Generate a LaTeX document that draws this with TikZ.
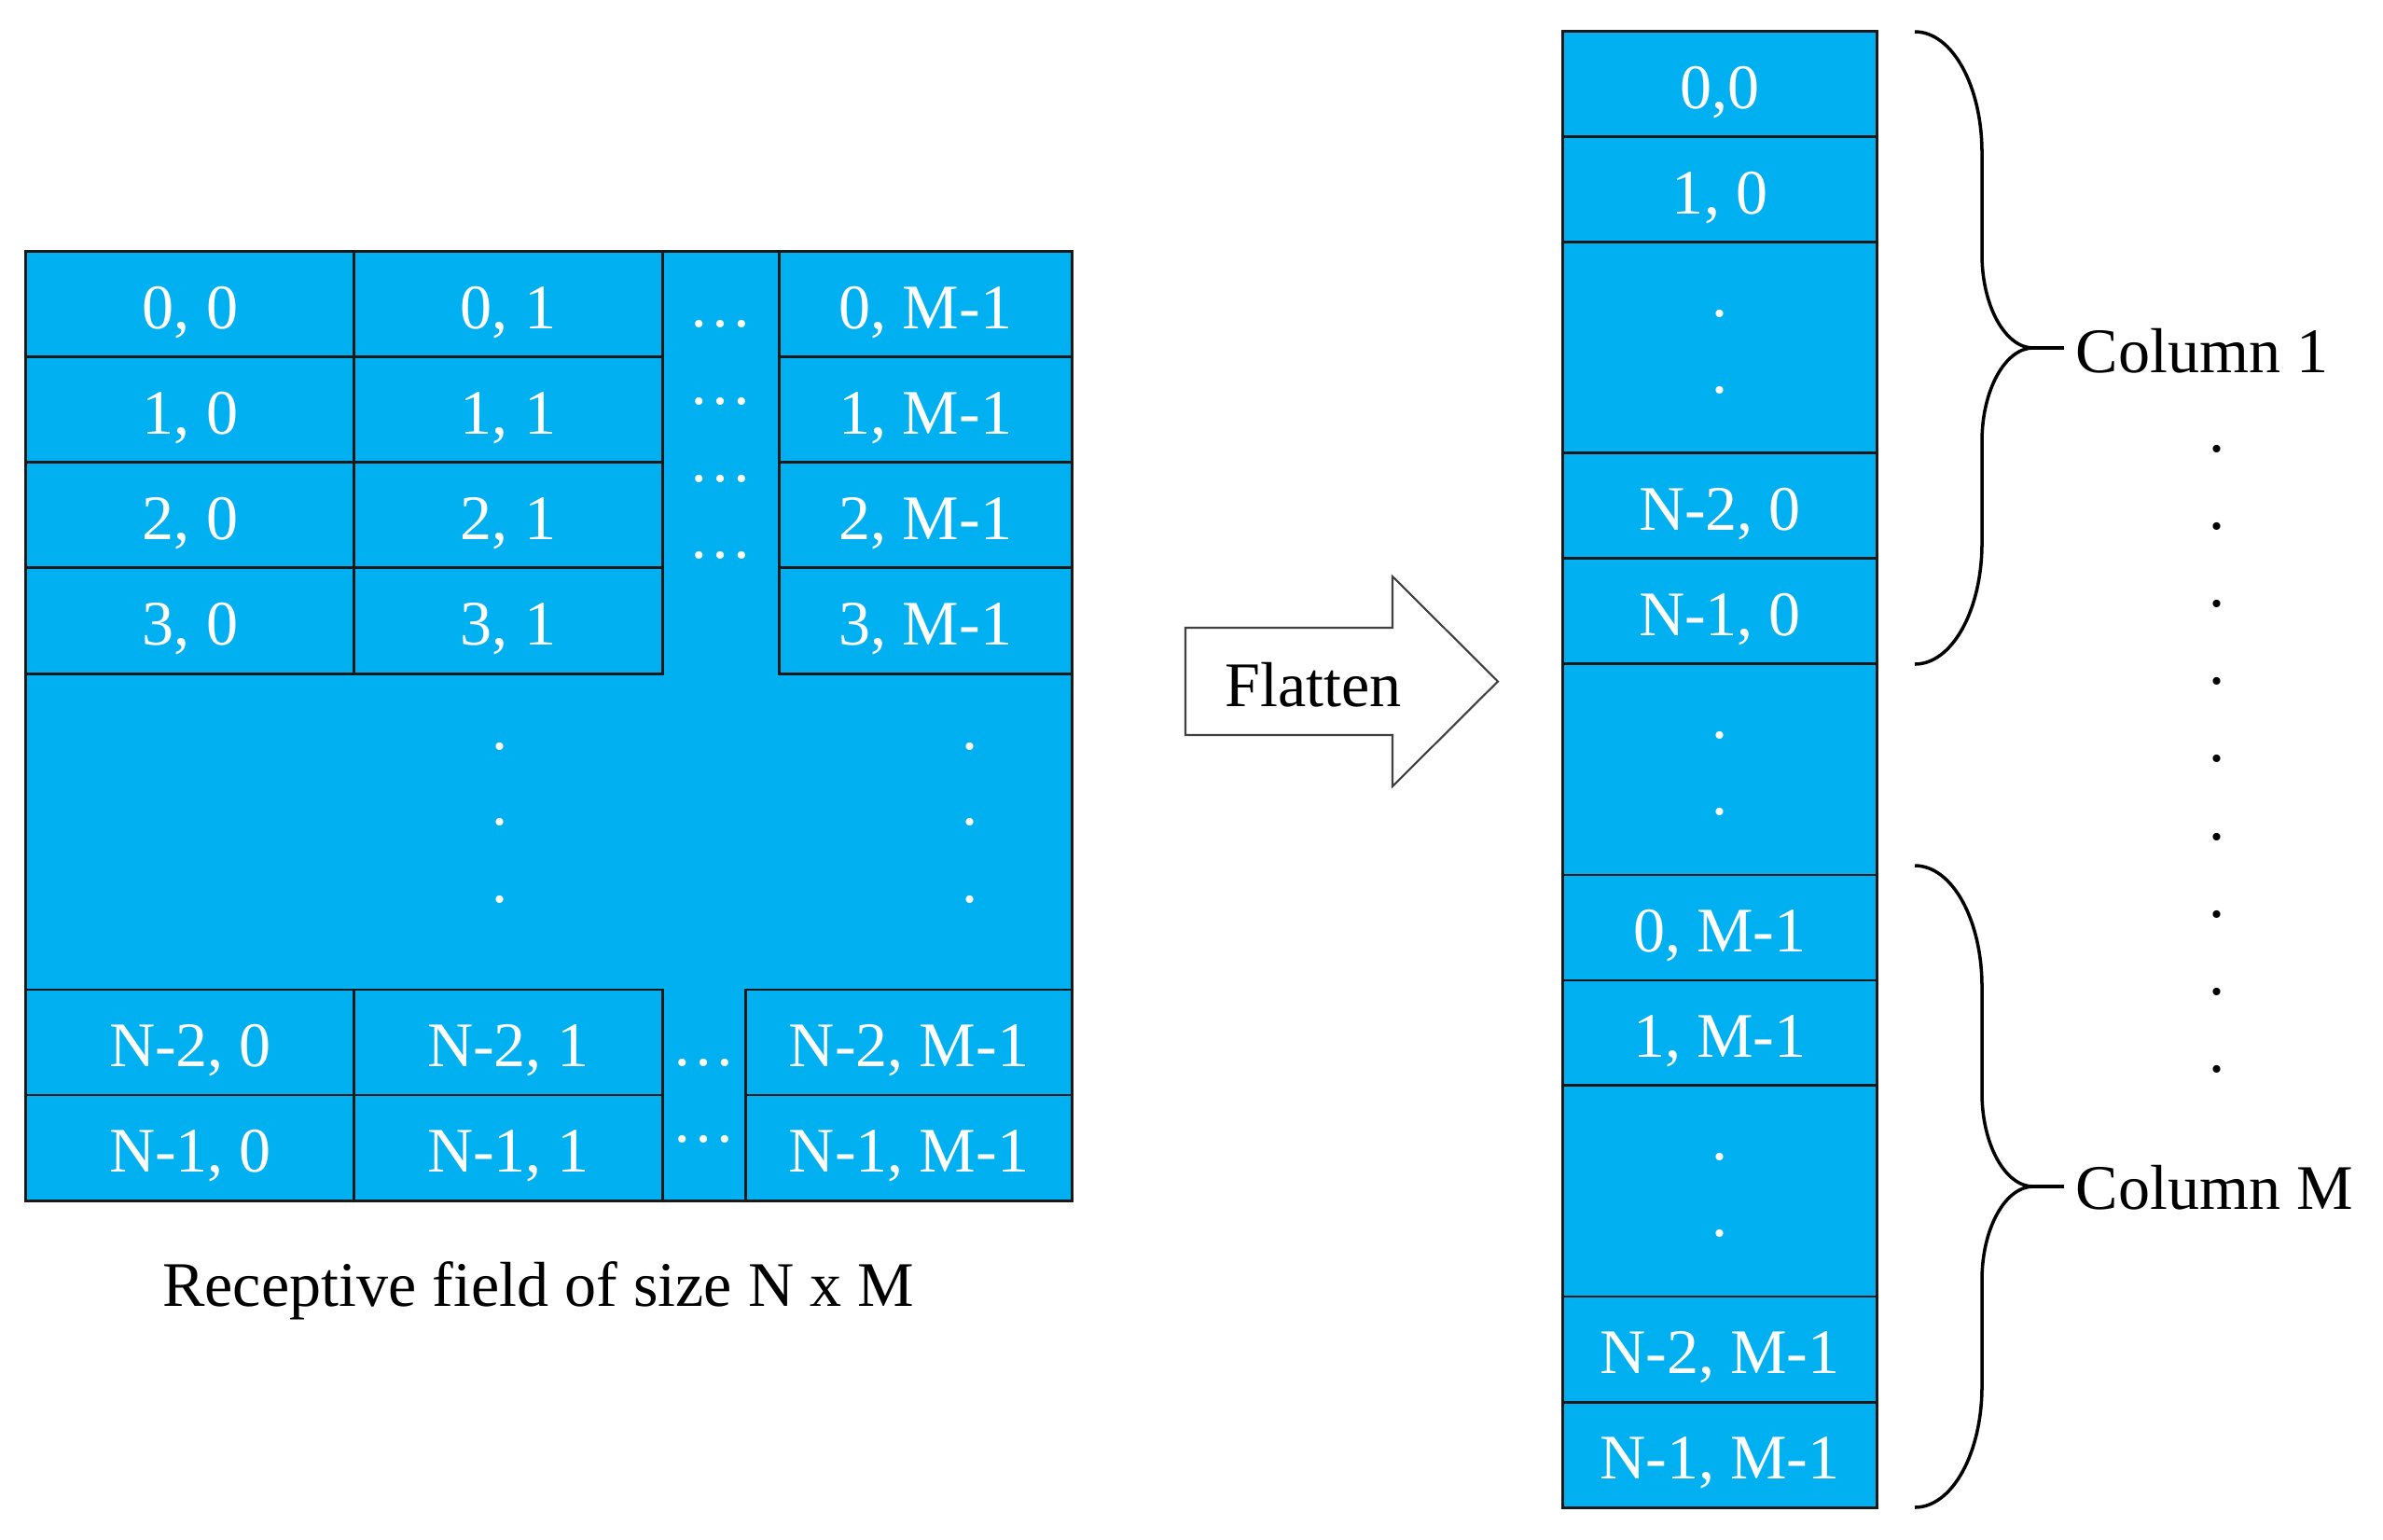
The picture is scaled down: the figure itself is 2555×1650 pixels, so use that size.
\documentclass[tikz,border=0pt]{standalone}
\usepackage{fontspec}
\setmainfont{Liberation Serif}
\definecolor{cellblue}{HTML}{00B0F0}
\newcommand{\cellfont}{\fontsize{19.36pt}{23.2pt}\selectfont}
\begin{document}
\begin{tikzpicture}[x=0.01cm, y=-0.01cm,
  gridline/.style={draw=black!90, line width=0.85pt},
  cell/.style={gridline, fill=cellblue, rectangle, inner sep=0pt,
    minimum height=1.13cm, text=white, font=\cellfont,
    text height=0.52cm, text depth=0pt},
  tallcell/.style={gridline, fill=cellblue, rectangle, inner sep=0pt,
    minimum width=3.36cm, minimum height=2.26cm},
  wdots/.style={font=\cellfont, text=white, inner sep=0pt, anchor=base},
  bdots/.style={font=\cellfont, text=black, inner sep=0pt, anchor=base},
  label/.style={font=\cellfont, text=black, inner sep=0pt},
  bracestyle/.style={draw=black, line width=1pt},
  arrowline/.style={draw=black!75, line width=0.6pt, fill=white, line join=miter}
]
\useasboundingbox (0,0) rectangle (2555,1650);

% ---------- receptive field grid ----------
\node[gridline, fill=cellblue, rectangle, inner sep=0pt,
      minimum width=11.21cm, minimum height=10.17cm] (field) at (588.5,778.5) {};

\foreach \r/\y in {0/326.5,1/439.5,2/552.5,3/665.5}{
  \node[cell, minimum width=3.52cm] (a\r0) at (204,\y) {\r, 0};
  \node[cell, minimum width=3.30cm] (a\r1) at (545,\y) {\r, 1};
  \node[cell, minimum width=3.13cm] (a\r m) at (992.5,\y) {\r, M-1};
}
\node[cell, minimum width=3.52cm] (an20) at (204,1117.5) {N-2, 0};
\node[cell, minimum width=3.30cm] (an21) at (545,1117.5) {N-2, 1};
\node[cell, minimum width=3.49cm] (an2m) at (974.5,1117.5) {N-2, M-1};
\node[cell, minimum width=3.52cm] (an10) at (204,1230.5) {N-1, 0};
\node[cell, minimum width=3.30cm] (an11) at (545,1230.5) {N-1, 1};
\node[cell, minimum width=3.49cm] (an1m) at (974.5,1230.5) {N-1, M-1};

% horizontal ellipses in the gaps
\node[wdots] (e1) at (773,350.5) {…};
\node[wdots] (e2) at (773,433.5) {…};
\node[wdots] (e3) at (773,516.5) {…};
\node[wdots] (e4) at (773,598.5) {…};
\node[wdots] (e5) at (755,1142.5) {…};
\node[wdots] (e6) at (755,1224.5) {…};

% vertical dots in the field
\foreach \yy [count=\i] in {803.5,884.5,967.5}{
  \node[wdots] (va\i) at (536,\yy) {.};
  \node[wdots] (vb\i) at (1040,\yy) {.};
}

\node[label, anchor=base] (caption) at (577,1400) {Receptive field of size N x M};

% ---------- flatten arrow ----------
\draw[arrowline] (1271,673) -- (1493,673) -- (1493,618) -- (1606,730.5)
  -- (1493,843) -- (1493,788) -- (1271,788) -- cycle;
\node[label, anchor=base] (flatten) at (1408,757) {Flatten};

% ---------- flattened column ----------
\node[cell, minimum width=3.36cm] (f1) at (1844,90.5) {0,0};
\node[cell, minimum width=3.36cm] (f2) at (1844,203.5) {1, 0};
\node[tallcell] (f3) at (1844,373) {};
\node[cell, minimum width=3.36cm] (f4) at (1844,542.5) {N-2, 0};
\node[cell, minimum width=3.36cm] (f5) at (1844,655.5) {N-1, 0};
\node[tallcell] (f6) at (1844,825) {};
\node[cell, minimum width=3.36cm] (f7) at (1844,994.5) {0, M-1};
\node[cell, minimum width=3.36cm] (f8) at (1844,1107.5) {1, M-1};
\node[tallcell] (f9) at (1844,1277) {};
\node[cell, minimum width=3.36cm] (f10) at (1844,1446.5) {N-2, M-1};
\node[cell, minimum width=3.36cm] (f11) at (1844,1559.5) {N-1, M-1};

\node[wdots] (d1) at (1844,339.5) {.};
\node[wdots] (d2) at (1844,421.5) {.};
\node[wdots] (d3) at (1844,791.5) {.};
\node[wdots] (d4) at (1844,873.5) {.};
\node[wdots] (d5) at (1844,1243.5) {.};
\node[wdots] (d6) at (1844,1325.5) {.};

% ---------- braces ----------
\coordinate (b1t) at (2053,34);
\coordinate (b1b) at (2053,712);
\coordinate (b1m) at (2180,373);
\coordinate (b1e) at (2213,373);
\draw[bracestyle] (b1t) .. controls (2093,34) and (2125,92) .. (2125,164)
  -- (2125,273) .. controls (2125,328) and (2150,373) .. (b1m)
  .. controls (2150,373) and (2125,418) .. (2125,473)
  -- (2125,582) .. controls (2125,654) and (2093,712) .. (b1b);
\draw[bracestyle] (b1m) -- (b1e);
\node[label, anchor=base west] (col1) at (2225,399) {Column 1};

\coordinate (b2t) at (2053,928);
\coordinate (b2b) at (2053,1616);
\coordinate (b2m) at (2180,1272);
\coordinate (b2e) at (2213,1272);
\draw[bracestyle] (b2t) .. controls (2093,928) and (2125,986) .. (2125,1058)
  -- (2125,1172) .. controls (2125,1227) and (2150,1272) .. (b2m)
  .. controls (2150,1272) and (2125,1317) .. (2125,1372)
  -- (2125,1486) .. controls (2125,1558) and (2093,1616) .. (b2b);
\draw[bracestyle] (b2m) -- (b2e);
\node[label, anchor=base west] (colm) at (2225,1296) {Column M};

% vertical dots between the braces
\foreach \yy [count=\i] in {484.5,567.5,650.5,733.5,816.5,900.5,983.5,1066.5,1149.5}{
  \node[bdots] (m\i) at (2377,\yy) {.};
}
\end{tikzpicture}
\end{document}
